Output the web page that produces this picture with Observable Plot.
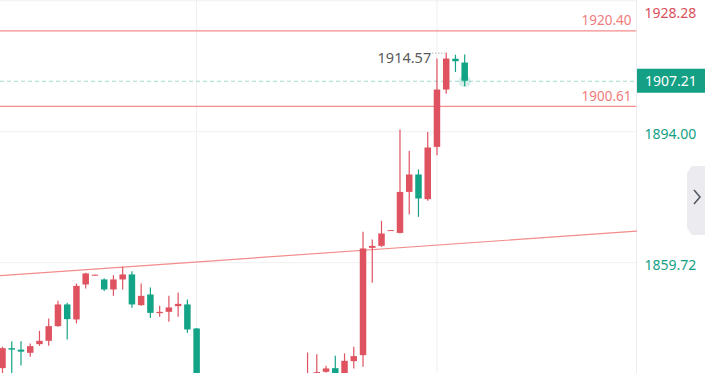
<!DOCTYPE html>
<html>
<head>
<meta charset="utf-8">
<script src="https://cdn.jsdelivr.net/npm/d3@7"></script>
<script src="https://cdn.jsdelivr.net/npm/@observablehq/plot@0.6"></script>
<style>
  html, body { margin: 0; padding: 0; background: #fff; }
  #wrap { position: relative; width: 705px; height: 373px; overflow: hidden; font-family: "Noto Sans", sans-serif; }
  #wrap svg { position: absolute; left: 0; top: 0; }
  #err { position: absolute; left: 0; top: 0; font-size: 11px; color: #c00; white-space: pre-wrap; }
</style>
</head>
<body>
<div id="wrap"></div>
<script>
// Candle index (bar position), OHLC
const idx   = [0,1,2,3,4,5,6,7,8,9,10,11,12,13,14,15,16,17,18,19,20,21,
               33,34,35,36,37,38,39,40,41,42,43,44,45,46,47,48,49,50];
const open  = [1831.97,1837.21,1836.82,1835.98,1838.26,1839.12,1842.97,1848.65,1844.72,1853.88,1856.18,1855.19,1852.57,1855.19,1856.50,1848.46,1851.26,1846.37,1846.71,1848.20,1848.65,1842.36,
               1827.00,1828.00,1831.01,1831.97,1829.50,1833.81,1835.38,1863.46,1863.98,1867.85,1867.38,1878.11,1882.67,1876.20,1889.89,1904.91,1912.97,1911.98];
const high  = [1837.60,1839.04,1839.04,1838.44,1841.74,1844.98,1849.59,1849.06,1854.14,1856.97,1856.44,1855.45,1856.31,1858.49,1857.36,1854.14,1853.09,1848.28,1850.90,1851.79,1849.95,1842.50,
               1836.08,1835.64,1832.58,1835.19,1835.82,1837.55,1867.65,1865.66,1870.52,1868.10,1894.44,1888.84,1883.98,1893.82,1913.03,1914.57,1914.02,1914.07];
const low   = [1830.20,1830.40,1832.68,1834.93,1837.81,1837.81,1842.78,1839.49,1843.67,1852.83,1856.18,1852.20,1850.90,1852.57,1847.76,1848.28,1845.14,1845.40,1844.09,1845.40,1841.21,1825.00,
               1826.00,1827.50,1830.75,1828.50,1829.00,1831.90,1832.31,1854.30,1863.72,1867.85,1867.23,1872.28,1871.57,1875.81,1887.72,1903.81,1909.52,1905.78];
const close = [1837.21,1836.82,1836.29,1837.73,1839.12,1842.97,1848.65,1844.80,1853.51,1856.76,1856.44,1852.57,1855.19,1856.50,1848.65,1850.90,1846.45,1846.71,1847.86,1848.80,1842.10,1826.00,
               1830.00,1830.93,1831.90,1829.00,1833.89,1835.11,1863.30,1863.98,1867.23,1868.10,1878.11,1882.67,1876.39,1889.73,1904.91,1913.03,1912.32,1907.21];

// Price levels and labels
const gridPrices = [1928.28, 1894.00, 1859.72];
const gridBars = [21, 47];
const topAxisPrice = 1928.28;
const axisPrices = [1894.00, 1859.72];
const levelLines = [1920.40, 1900.61];
const lastPrice = 1907.21;
const lastBar = 50;
const highBar = 48, highPrice = 1914.57;
// Trend line anchors (bar, price)
const trendBars = [0, 50];
const trendPrices = [1856.35, 1864.82];

const UP = "#df5260", DOWN = "#13a386";

try {
  const candles = idx.map((i, k) => ({i, o: open[k], h: high[k], l: low[k], c: close[k]}));
  const colorOf = d => d.c >= d.o ? UP : DOWN;

  const xDom = [-0.2164, 68.585];
  const yDom = [1830.70, 1928.35];
  const slope = (trendPrices[1] - trendPrices[0]) / (trendBars[1] - trendBars[0]);
  const trend = xDom.map(i => ({i, p: trendPrices[0] + slope * (i - trendBars[0])}));
  const axisData = axisPrices.map(p => ({p, x: xDom[1]}));
  const topAxis = [{p: topAxisPrice, x: xDom[1]}];
  const levelData = levelLines.map(p => ({p, x: xDom[1]}));
  const hm = [{i: highBar, p: highPrice, a: highBar - 1.45, b: highBar - 0.1}];

  const chart = Plot.plot({
    width: 705, height: 373,
    marginLeft: 0, marginRight: 69, marginTop: 0, marginBottom: 0,
    x: {domain: xDom, axis: null},
    y: {domain: yDom, axis: null},
    style: {fontFamily: "'Noto Sans', sans-serif", background: "transparent"},
    marks: [
      Plot.ruleY(gridPrices, {stroke: "#f0f0f4", strokeWidth: 1}),
      Plot.ruleX(gridBars, {stroke: "#f0f0f4", strokeWidth: 1}),
      Plot.ruleX([xDom[1]], {stroke: "#ebebf0", strokeWidth: 1}),
      Plot.line(trend, {x: "i", y: "p", stroke: "#f58b8b", strokeWidth: 1.2}),
      Plot.ruleY(levelLines, {stroke: "#f58b8b", strokeWidth: 1.2}),
      Plot.text(levelData, {x: "x", y: "p", text: d => d.p.toFixed(2), dx: -5, dy: -10, textAnchor: "end", fill: "#f07c7c", fontSize: 13.5}),
      Plot.ruleY([lastPrice], {stroke: "#9edccf", strokeWidth: 1.2, strokeDasharray: "4,3"}),
      Plot.ruleX(candles, {x: "i", y1: "l", y2: "h", stroke: colorOf, strokeWidth: 1.2, clip: true}),
      Plot.ruleX(candles, {x: "i", y1: "o", y2: "c", stroke: colorOf, strokeWidth: 6.5, clip: true}),
      Plot.dot([{i: lastBar, p: lastPrice}], {x: "i", y: "p", r: 6, fill: DOWN, fillOpacity: 0.18}),
      Plot.ruleY(hm, {y: "p", x1: "a", x2: "b", stroke: "#888", strokeWidth: 1, strokeDasharray: "1,2"}),
      Plot.text(hm, {x: "i", y: "p", text: d => d.p.toFixed(2), dx: -15, dy: 5, textAnchor: "end", fill: "#5a5a5a", fontSize: 14.5}),
      Plot.text(topAxis, {x: "x", y: "p", text: d => d.p.toFixed(2), fill: "#d94f5c", dx: 8, dy: 13, textAnchor: "start", fontSize: 14}),
      Plot.text(axisData, {x: "x", y: "p", text: d => d.p.toFixed(2), fill: "#12a085", dx: 8, dy: 3, textAnchor: "start", fontSize: 14})
    ]
  });
  const wrap = document.getElementById("wrap");
  wrap.prepend(chart);
  const svg = d3.select(chart.tagName.toLowerCase() === "svg" ? chart : chart.querySelector("svg"));
  const yv = chart.scale("y").apply(lastPrice);
  const g = svg.append("g").attr("text-anchor", "start");
  g.append("rect").attr("x", 637).attr("y", yv - 12).attr("width", 68).attr("height", 24).attr("fill", "#13a085");
  g.append("text").attr("x", 645).attr("y", yv + 5.5).attr("fill", "#fff").attr("font-size", 14)
    .attr("text-anchor", "start").attr("font-family", "'Noto Sans', sans-serif").text(lastPrice.toFixed(2));
  // side expand tab
  g.append("polygon").attr("points", "692,166 705,166 705,235 692,235 687,228 687,173").attr("fill", "#ececf0");
  g.append("polyline").attr("points", "694,190 700,197 694,204").attr("fill", "none")
    .attr("stroke", "#555a66").attr("stroke-width", 1.6);
} catch (e) {
  const d = document.createElement("div"); d.id = "err"; d.textContent = String(e && e.stack || e);
  document.getElementById("wrap").appendChild(d);
}
</script>
</body>
</html>
